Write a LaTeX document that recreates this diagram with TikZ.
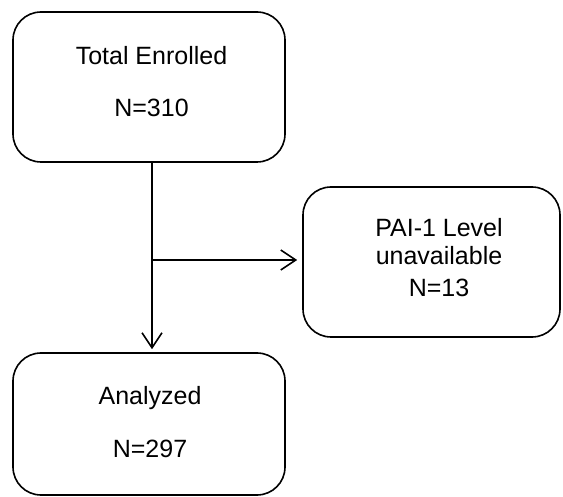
\documentclass[tikz,border=0pt]{standalone}
\usepackage{fontspec}
\setmainfont{Liberation Sans}
\usetikzlibrary{arrows.meta}
\begin{document}
\begin{tikzpicture}[x=1pt,y=-1pt,
  box/.style={draw, line width=1.6pt, rounded corners=28pt, inner sep=0pt},
  lbl/.style={anchor=base, inner sep=0pt, font=\fontsize{25}{30}\selectfont},
  conn/.style={line width=1.6pt},
  arr/.style={conn, -{Straight Barb[length=15pt, width=20pt, line width=1.6pt]}}]
\useasboundingbox (0,0) rectangle (563,497);
\node[box, minimum width=272pt, minimum height=150pt] (enr) at (149,87) {};
\node[box, minimum width=257pt, minimum height=150pt] (pai) at (431.5,262) {};
\node[box, minimum width=272pt, minimum height=142pt] (ana) at (149,424) {};
\node[lbl] (t1) at (151.5,65) {Total Enrolled};
\node[lbl] (t2) at (151.5,117) {N=310};
\node[lbl] (p1) at (439,237) {PAI-1 Level};
\node[lbl] (p2) at (439,265) {unavailable};
\node[lbl] (p3) at (439,297) {N=13};
\node[lbl] (a1) at (150,405) {Analyzed};
\node[lbl] (a2) at (150,457) {N=297};
\coordinate (j) at (152,260);
\draw[conn] (enr.south -| j) -- (j);
\draw[arr, shorten >=3pt] (j) -- (j |- ana.north);
\draw[arr, shorten >=5pt] (j) -- (j -| pai.west);
\end{tikzpicture}
\end{document}
